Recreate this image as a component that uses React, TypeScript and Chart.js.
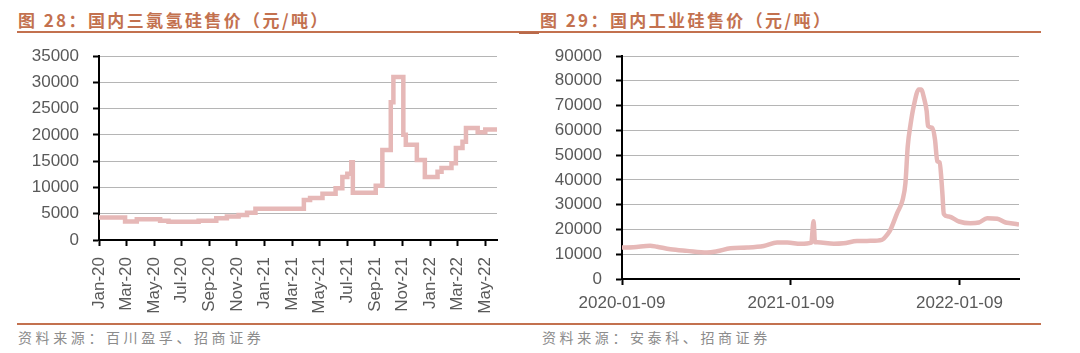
import React, { useEffect, useRef } from "react";
import { Chart, registerables } from "chart.js";

Chart.register(...registerables);

// ---------- Left chart: 国内三氯氢硅售价 (stepped) ----------
// x = months since Jan 2020 (value applies from this point on)
const tcsMonths = [0, 1.89, 2.74, 4.43, 5.04, 7.22, 8.5, 9.27, 10.12, 10.73, 11.34, 14.85, 15.3, 16.2, 17.15, 17.64, 18.0, 18.29, 18.4, 20.06, 20.54, 21.15, 21.34, 22.06, 22.24, 23.04, 23.62, 24.54, 24.83, 25.55, 25.87, 26.35, 26.6, 27.45, 28.0, 28.85];
const tcsPrices = [4300, 3500, 3950, 3650, 3450, 3650, 4150, 4450, 4750, 5200, 5950, 7600, 8000, 8800, 9850, 12000, 12600, 14800, 9000, 10300, 17100, 26200, 31000, 20000, 18100, 15200, 12000, 13000, 13700, 14600, 17500, 18700, 21300, 20500, 21000, 21000];
const tcsTickMonths = [0, 2, 4, 6, 8, 10, 12, 14, 16, 18, 20, 22, 24, 26, 28];
const tcsTickLabels = ["Jan-20", "Mar-20", "May-20", "Jul-20", "Sep-20", "Nov-20", "Jan-21", "Mar-21", "May-21", "Jul-21", "Sep-21", "Nov-21", "Jan-22", "Mar-22", "May-22"];

// ---------- Right chart: 国内工业硅售价 ----------
// x = days since 2020-01-09
const siDays = [0, 25, 61, 76, 105, 141, 184, 206, 235, 271, 307, 336, 358, 387, 410, 415, 418, 423, 459, 480, 509, 538, 563, 575, 582, 596, 608, 614, 619, 625, 632, 643, 648, 654, 660, 663, 672, 678, 683, 688, 694, 697, 708, 730, 755, 773, 791, 813, 831, 842, 860];
const siPrices = [12700, 12800, 13450, 13000, 12000, 11350, 10700, 11200, 12400, 12700, 13350, 14700, 14700, 14200, 14700, 23300, 14800, 14800, 14200, 14400, 15300, 15400, 15800, 18000, 20100, 26600, 32000, 38700, 53600, 62300, 69800, 76500, 76500, 73200, 67700, 61700, 61000, 56300, 47500, 47000, 34700, 26300, 25200, 23200, 22500, 22800, 24500, 24300, 22800, 22500, 22000];
const siTickDays = [0, 366, 731];
const siTickLabels = ["2020-01-09", "2021-01-09", "2022-01-09"];

const LINE_COLOR = "#E6B8B7";
const ACCENT = "#C3714F";
const TICK_COLOR = "#595959";
const GRID_COLOR = "#b5b5b5";
const AXIS_FONT = { family: "'Liberation Sans', Arial, sans-serif", size: 17 };

const CW = 520;
const CH = 285;

function zeroPad(s: any) {
  s.paddingTop = 0;
  s.paddingBottom = 0;
  s.paddingLeft = 0;
  s.paddingRight = 0;
}

function axisY(max: number, step: number, width: number) {
  return {
    min: 0,
    max,
    ticks: { stepSize: step, padding: 14, color: TICK_COLOR, font: AXIS_FONT, callback: (v: any) => String(v) },
    grid: { color: GRID_COLOR, lineWidth: 1, tickLength: 6, tickColor: "#000", tickWidth: 2 },
    border: { color: "#000", width: 2 },
    afterFit: (s: any) => {
      s.width = width;
      zeroPad(s);
    },
  };
}

function axisX(max: number, tickVals: number[], labels: string[], rotate: boolean, height: number, pad: number) {
  return {
    type: "linear",
    min: 0,
    max,
    afterBuildTicks: (s: any) => {
      s.ticks = tickVals.map((v) => ({ value: v }));
    },
    ticks: {
      autoSkip: false,
      minRotation: rotate ? 90 : 0,
      maxRotation: rotate ? 90 : 0,
      padding: pad,
      color: TICK_COLOR,
      font: AXIS_FONT,
      callback: (v: any) => {
        const i = tickVals.indexOf(Number(v));
        return i >= 0 ? labels[i] : "";
      },
    },
    grid: { drawOnChartArea: false, drawTicks: true, tickLength: 6, tickColor: "#000", tickWidth: 2 },
    border: { color: "#000", width: 2 },
    afterFit: (s: any) => {
      s.height = height;
      zeroPad(s);
    },
  };
}

function useChart(ref: React.RefObject<HTMLCanvasElement | null>, build: () => any) {
  useEffect(() => {
    if (!ref.current) return;
    const chart = new Chart(ref.current, build());
    return () => chart.destroy();
  }, []);
}

export default function App() {
  const leftRef = useRef<HTMLCanvasElement>(null);
  const rightRef = useRef<HTMLCanvasElement>(null);

  useChart(leftRef, () => ({
    type: "line",
    data: {
      datasets: [
        {
          data: tcsMonths.map((m, i) => ({ x: m, y: tcsPrices[i] })),
          borderColor: LINE_COLOR,
          borderWidth: 4.5,
          pointRadius: 0,
          stepped: "before",
          fill: false,
        },
      ],
    },
    options: {
      responsive: false,
      animation: false,
      layout: { padding: { top: 16, right: CW - 497, left: 0, bottom: 0 } },
      plugins: { legend: { display: false }, tooltip: { enabled: false } },
      scales: {
        x: axisX(28.85, tcsTickMonths, tcsTickLabels, true, CH - 200, 11),
        y: axisY(35000, 5000, 99),
      },
    },
  }));

  useChart(rightRef, () => ({
    type: "line",
    data: {
      datasets: [
        {
          data: siDays.map((d, i) => ({ x: d, y: siPrices[i] })),
          borderColor: LINE_COLOR,
          borderWidth: 4.5,
          pointRadius: 0,
          cubicInterpolationMode: "monotone",
          fill: false,
        },
      ],
    },
    options: {
      responsive: false,
      animation: false,
      layout: { padding: { top: 16, right: CW - 499, left: 0, bottom: 0 } },
      plugins: { legend: { display: false }, tooltip: { enabled: false } },
      scales: {
        x: axisX(860, siTickDays, siTickLabels, false, CH - 239, 8),
        y: axisY(90000, 10000, 102),
      },
    },
  }));

  const titleStyle: React.CSSProperties = {
    position: "absolute",
    top: 8,
    fontFamily: "'Noto Sans CJK SC', sans-serif",
    fontWeight: 700,
    fontSize: 17,
    letterSpacing: 2.4,
    color: ACCENT,
    whiteSpace: "nowrap",
    lineHeight: "24px",
  };
  const sourceStyle: React.CSSProperties = {
    position: "absolute",
    top: 326,
    fontFamily: "'Noto Sans CJK SC', sans-serif",
    fontSize: 14,
    letterSpacing: 3.6,
    color: "#8c8c8c",
    whiteSpace: "nowrap",
    lineHeight: "22px",
  };

  return (
    <div style={{ position: "absolute", left: 0, top: 0, width: 1080, height: 353, background: "#fff", overflow: "hidden" }}>
      <div style={{ ...titleStyle, left: 18 }}>图 28：国内三氯氢硅售价（元/吨）</div>
      <div style={{ ...titleStyle, left: 540 }}>图 29：国内工业硅售价（元/吨）</div>
      <div style={{ position: "absolute", left: 17, top: 31, width: 1024, height: 2, background: ACCENT }} />
      <div style={{ position: "absolute", left: 519, top: 32, width: 20, height: 2, background: "#B8694A" }} />
      <canvas ref={leftRef} width={CW} height={CH} style={{ position: "absolute", left: 0, top: 40 }} />
      <canvas ref={rightRef} width={CW} height={CH} style={{ position: "absolute", left: 520, top: 40 }} />
      <div style={{ position: "absolute", left: 17, top: 323, width: 1024, height: 2, background: ACCENT }} />
      <div style={{ ...sourceStyle, left: 18 }}>资料来源：百川盈孚、招商证券</div>
      <div style={{ ...sourceStyle, left: 542 }}>资料来源：安泰科、招商证券</div>
    </div>
  );
}
